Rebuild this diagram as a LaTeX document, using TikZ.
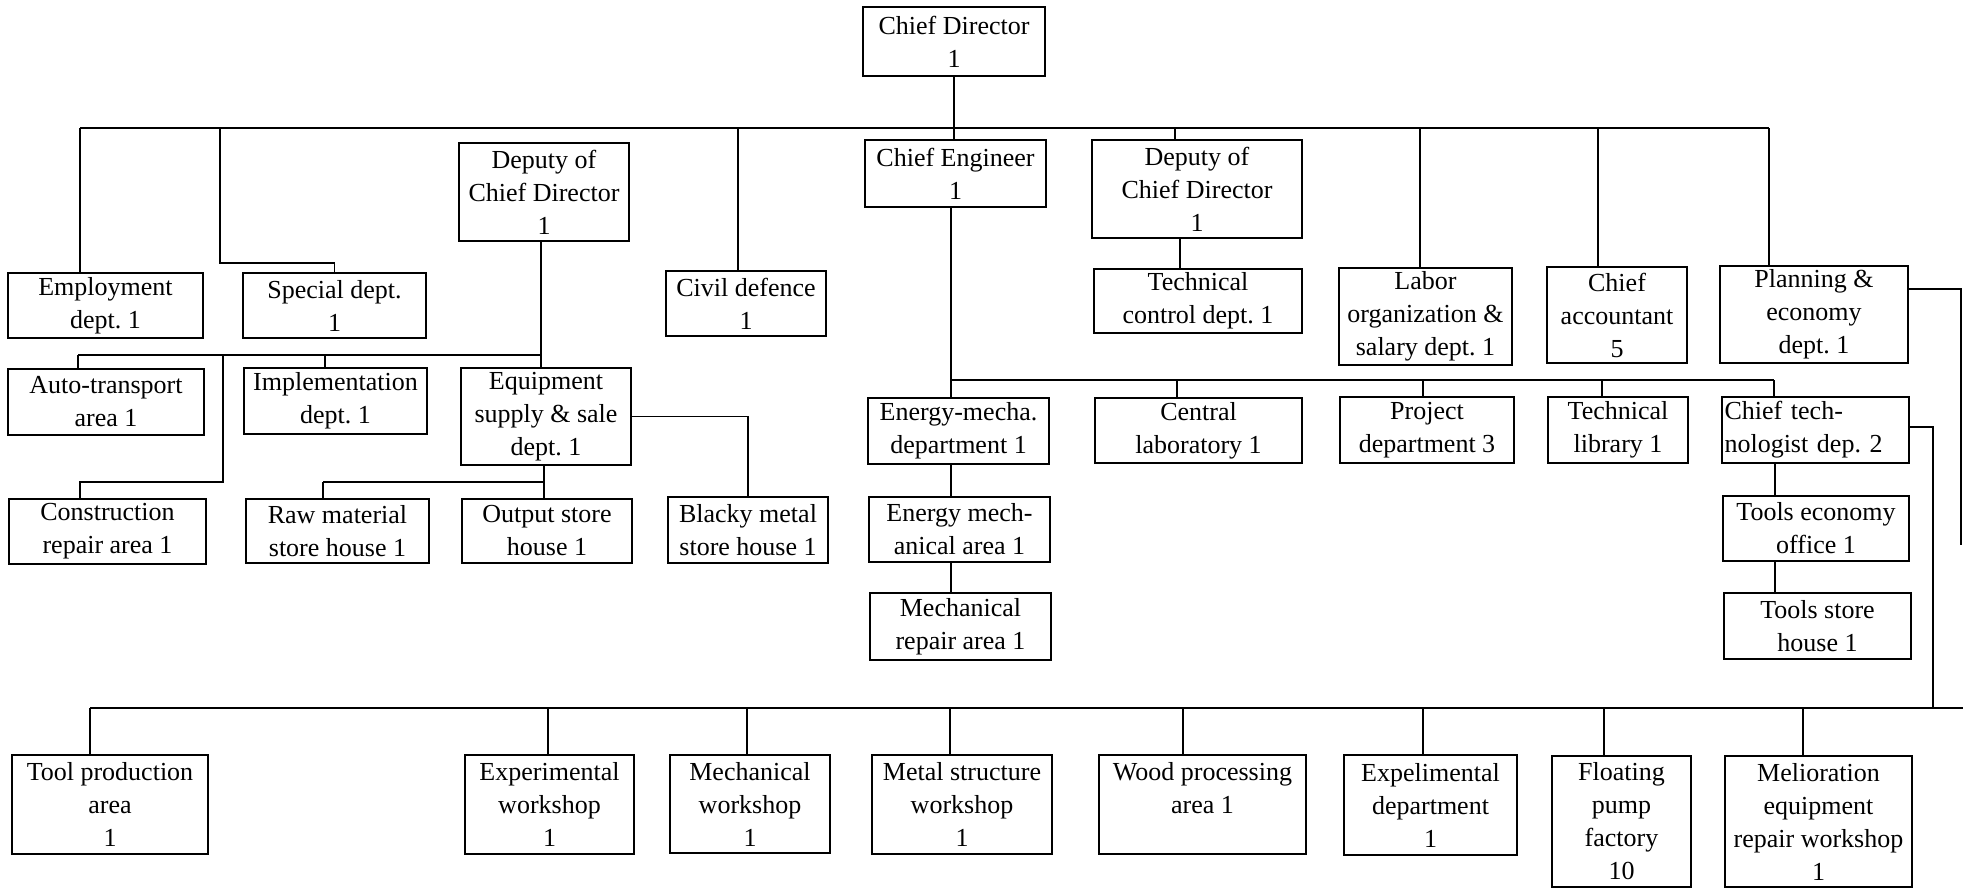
\documentclass[tikz,border=0pt]{standalone}
\usepackage{fontspec}
\setmainfont{Liberation Serif}
\frenchspacing
\tikzset{
  box/.style={draw, line width=1.1pt, align=center, inner sep=0pt, font=\fontsize{13}{16.5}\selectfont},
  sz/.style 2 args={minimum width=#1*0.5pt, minimum height=#2*0.5pt},
  link/.style={line width=0.8pt}
}
\begin{document}
\begin{tikzpicture}[x=0.5pt, y=-0.5pt]
  \useasboundingbox (0,0) rectangle (1963,890);

  % top level
  \node[box, sz={182}{69}] (cdir) at (954,41.5) {Chief Director\\1};
  \node[box, sz={195}{65}] (emp) at (105.5,305.5) {Employment\\dept. 1};
  \node[box, sz={183}{65}] (spec) at (334.5,305.5) {Special dept.\\1};
  \node[box, sz={170}{98}] (depL) at (544,192) {Deputy of\\Chief Director\\1};
  \node[box, sz={160}{65}] (civ) at (746,303.5) {Civil defence\\1};
  \node[box, sz={181}{67}] (ceng) at (955.5,173.5) {Chief Engineer\\1};
  \node[box, sz={210}{98}] (depR) at (1197,189) {Deputy of\\Chief Director\\1};
  \node[box, sz={208}{64}] (tcon) at (1198,301) {Technical\\control dept. 1};
  \node[box, sz={173}{97}] (lab) at (1425.5,316.5) {Labor\\organization \&\\salary dept. 1};
  \node[box, sz={140}{96}] (acc) at (1617,315) {Chief\\accountant\\5};
  \node[box, sz={188}{97}] (plan) at (1814,314.5) {Planning \&\\economy\\dept. 1};

  % under the left deputy
  \node[box, sz={196}{66}] (auto) at (106,402) {Auto-transport\\area 1};
  \node[box, sz={183}{66}] (impl) at (335.5,401) {Implementation\\dept. 1};
  \node[box, sz={170}{97}] (equip) at (546,416.5) {Equipment\\supply \& sale\\dept. 1};
  \node[box, sz={197}{65}] (cons) at (107.5,531.5) {Construction\\repair area 1};
  \node[box, sz={183}{64}] (raw) at (337.5,531) {Raw material\\store house 1};
  \node[box, sz={170}{64}] (outp) at (547,531) {Output store\\house 1};
  \node[box, sz={160}{66}] (black) at (748,530) {Blacky metal\\store house 1};

  % under the chief engineer
  \node[box, sz={181}{66}] (emd) at (958.5,431) {Energy-mecha.\\department 1};
  \node[box, sz={207}{65}] (clab) at (1198.5,430.5) {Central\\laboratory 1};
  \node[box, sz={174}{66}] (proj) at (1427,430) {Project\\department 3};
  \node[box, sz={140}{66}] (tlib) at (1618,430) {Technical\\library 1};
  \node[box, sz={187}{66}, text width=91pt, align=left] (ctech) at (1815.5,430) {Chief tech-\\nologist dep. 2};
  \node[box, sz={181}{65}] (ema) at (959.5,529.5) {Energy mech-\\anical area 1};
  \node[box, sz={181}{67}] (mra) at (960.5,626.5) {Mechanical\\repair area 1};
  \node[box, sz={186}{65}] (teo) at (1816,528.5) {Tools economy\\office 1};
  \node[box, sz={187}{66}] (tsh) at (1817.5,626) {Tools store\\house 1};

  % bottom row
  \node[box, sz={196}{99}] (tpa) at (110,804.5) {Tool production\\area\\1};
  \node[box, sz={169}{99}] (expw) at (549.5,804.5) {Experimental\\workshop\\1};
  \node[box, sz={160}{98}] (mechw) at (750,804) {Mechanical\\workshop\\1};
  \node[box, sz={180}{99}] (metw) at (962,804.5) {Metal structure\\workshop\\1};
  \node[box, sz={207}{99}] (wood) at (1202.5,804.5) {Wood processing\\area 1\\ ~};
  \node[box, sz={173}{100}] (expd) at (1430.5,805) {Expelimental\\department\\1};
  \node[box, sz={139}{131}] (fpf) at (1621.5,821.5) {Floating\\pump\\factory\\10};
  \node[box, sz={187}{131}] (mel) at (1818.5,821.5) {Melioration\\equipment\\repair workshop\\1};

  % top bus
  \draw[link] (80,128) -- (1769,128);
  \draw[link] (cdir.south) -- (cdir.south |- ceng.north);
  \draw[link] (80,128) -- (80,0 |- emp.north);
  \draw[link] (220,128) -- (220,263) -| (spec.north);
  \draw[link] (738,128) -- (738,0 |- civ.north);
  \draw[link] (1175,128) -- (1175,0 |- depR.north);
  \draw[link] (1180,0 |- depR.south) -- (1180,0 |- tcon.north);
  \draw[link] (1420,128) -- (1420,0 |- lab.north);
  \draw[link] (1598,128) -- (1598,0 |- acc.north);
  \draw[link] (1769,128) -- (1769,0 |- plan.north);

  % left deputy
  \draw[link] (541,0 |- depL.south) -- (541,0 |- equip.north);
  \draw[link] (78,355) -- (541,355);
  \draw[link] (78,355) -- (78,0 |- auto.north);
  \draw[link] (223,355) -- (223,482) -- (80,482) -- (80,0 |- cons.north);
  \draw[link] (325,355) -- (325,0 |- impl.north);
  \draw[link] (equip.east) -| (black.north);
  \draw[link] (544,0 |- equip.south) -- (544,0 |- outp.north);
  \draw[link] (323,482) -- (544,482);
  \draw[link] (323,482) -- (323,0 |- raw.north);

  % chief engineer
  \draw[link] (951,0 |- ceng.south) -- (951,0 |- emd.north);
  \draw[link] (951,380) -- (1774,380);
  \foreach \x/\n in {1177/clab,1423/proj,1602/tlib,1774/ctech}
    \draw[link] (\x,380) -- (\x,0 |- \n.north);
  \draw[link] (951,0 |- emd.south) -- (951,0 |- ema.north);
  \draw[link] (951,0 |- ema.south) -- (951,0 |- mra.north);
  \draw[link] (1775,0 |- ctech.south) -- (1775,0 |- teo.north);
  \draw[link] (1775,0 |- teo.south) -- (1775,0 |- tsh.north);

  % right side
  \draw[link] (plan.east |- 0,289) -- (1961,289) -- (1961,545);
  \draw[link] (ctech.east |- 0,427) -- (1933,427) -- (1933,708);

  % bottom bus
  \draw[link] (90,708) -- (1963,708);
  \foreach \x/\n in {90/tpa,548/expw,747/mechw,950/metw,1183/wood,1423/expd,1604/fpf,1803/mel}
    \draw[link] (\x,708) -- (\x,0 |- \n.north);
\end{tikzpicture}
\end{document}
